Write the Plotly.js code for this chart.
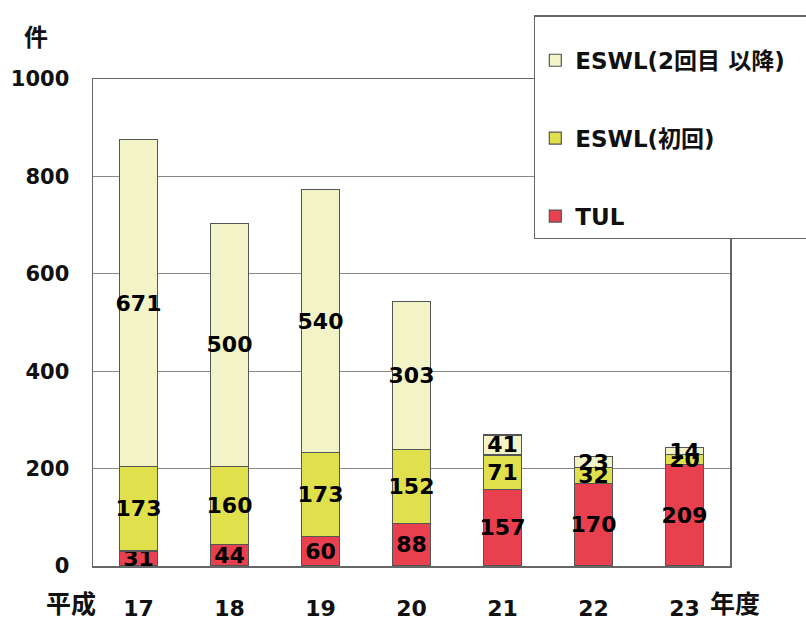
<!DOCTYPE html>
<html>
<head>
<meta charset="utf-8">
<script src="https://cdn.plot.ly/plotly-3.0.1.min.js"></script>
<style>html,body{margin:0;padding:0;background:#fff;}#chart{width:806px;height:621px;}</style>
</head>
<body>
<div id="chart"></div>
<script>
const categories = ["17", "18", "19", "20", "21", "22", "23"];
const tul = [31, 44, 60, 88, 157, 170, 209];
const eswlFirst = [173, 160, 173, 152, 71, 32, 20];
const eswlRepeat = [671, 500, 540, 303, 41, 23, 14];
const yTicks = [0, 200, 400, 600, 800, 1000];

const FONT = '"DejaVu Sans", "Noto Sans CJK JP", sans-serif';
const lineColor = '#555';
const PAD = '\u00a0'.repeat(12);

function barTrace(name, vals, color, rank) {
  return {
    type: 'bar', name: name, x: categories, y: vals,
    text: vals.map(String), textposition: 'inside', insidetextanchor: 'middle',
    textangle: 0, constraintext: 'none',
    textfont: {family: FONT, size: 22, color: '#000', weight: 700},
    marker: {color: color, line: {color: lineColor, width: 1.2}},
    legendgroup: name, legendrank: rank, hoverinfo: 'skip'
  };
}

const data = [
  barTrace('TUL', tul, '#e8404e', 3),
  barTrace('ESWL(初回)', eswlFirst, '#e0e04c', 2),
  barTrace('ESWL(2回目 以降)' + PAD, eswlRepeat, '#f2f3c6', 1)
];

const layout = {
  width: 806, height: 621,
  margin: {l: 93, r: 76, t: 79, b: 55, autoexpand: false},
  paper_bgcolor: '#fff', plot_bgcolor: '#fff',
  barmode: 'stack', bargap: 0.59,
  font: {family: FONT, size: 20, color: '#111', weight: 700},
  showlegend: true,
  legend: {
    x: 0.692, xanchor: 'left', y: 1.131, yanchor: 'top',
    traceorder: 'grouped', tracegroupgap: 45,
    bgcolor: '#fff', bordercolor: '#666', borderwidth: 1.5,
    title: {text: ' ', font: {size: 17}},
    font: {family: FONT, size: 23, color: '#111', weight: 700},
    itemwidth: 30
  },
  xaxis: {
    type: 'category', showline: true, mirror: true, linecolor: '#666', linewidth: 1.5,
    showgrid: false, ticks: '', ticklabelstandoff: 22,
    tickfont: {family: FONT, size: 22, color: '#111', weight: 700}
  },
  yaxis: {
    range: [0, 1000], tickvals: yTicks, ticktext: yTicks.map(String),
    showline: true, mirror: true, linecolor: '#666', linewidth: 1.5,
    showgrid: true, gridcolor: '#888', gridwidth: 1.2, zeroline: false,
    ticks: '', ticklabelstandoff: 18,
    tickfont: {family: FONT, size: 21, color: '#111', weight: 700}
  },
  annotations: [
    {text: '件', xref: 'paper', yref: 'paper', x: -0.09, y: 1.085, xanchor: 'center', yanchor: 'middle', showarrow: false,
     font: {family: FONT, size: 24, color: '#111', weight: 700}},
    {text: '平成', xref: 'paper', yref: 'paper', x: 0.008, y: -0.08, xanchor: 'right', yanchor: 'middle', showarrow: false,
     font: {family: FONT, size: 25, color: '#111', weight: 700}},
    {text: '年度', xref: 'paper', yref: 'paper', x: 0.965, y: -0.08, xanchor: 'left', yanchor: 'middle', showarrow: false,
     font: {family: FONT, size: 25, color: '#111', weight: 700}}
  ]
};

Plotly.newPlot('chart', data, layout, {displayModeBar: false, staticPlot: true});
</script>
</body>
</html>
